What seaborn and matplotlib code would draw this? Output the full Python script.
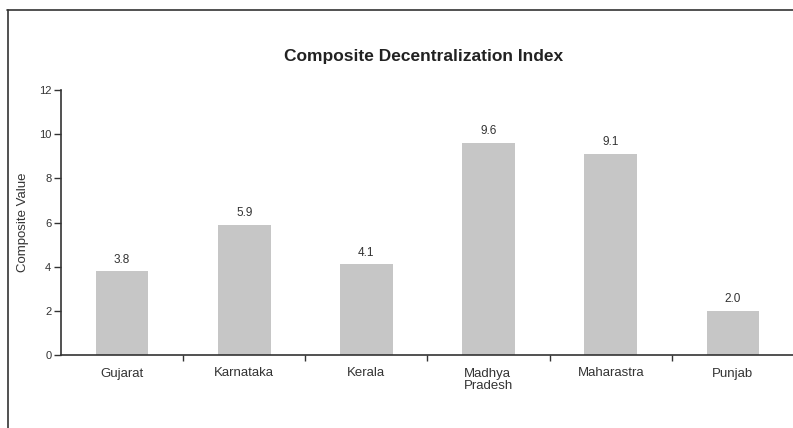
import matplotlib
matplotlib.use("Agg")
import matplotlib.pyplot as plt
import seaborn as sns
import pandas as pd
from matplotlib.lines import Line2D

states = ["Gujarat", "Karnataka", "Kerala", "Madhya\nPradesh", "Maharastra", "Punjab"]
values = [3.8, 5.9, 4.1, 9.6, 9.1, 2.0]
title = "Composite Decentralization Index"
ylabel = "Composite Value"

sns.set_theme(style="white")
plt.rcParams['font.family'] = ['Liberation Sans', 'DejaVu Sans']

df = pd.DataFrame({"state": states, "value": values})

fig = plt.figure(figsize=(7.93, 4.28), dpi=100)
ax = fig.add_axes([61/793, 73/428, 733/793, 265/428])

sns.barplot(data=df, x="state", y="value", color="#c6c6c6", width=0.43,
            saturation=1, ax=ax, edgecolor="none")

ax.set_ylim(0, 12)
ax.set_xlim(-0.5, 5.5)
ax.set_yticks([0, 2, 4, 6, 8, 10, 12])
ax.tick_params(axis="y", labelsize=8, length=5, width=1, color="#333333",
               labelcolor="#333333", left=True, pad=2, direction="out")
ax.set_xticks(range(len(states)))
ax.set_xticklabels(states, fontsize=9.5, color="#333333", multialignment="left",
                   linespacing=1.1)
ax.tick_params(axis="x", which="major", length=0, pad=9)
ax.set_xticks([i + 0.5 for i in range(len(states) - 1)], minor=True)
ax.tick_params(axis="x", which="minor", length=4, width=1, color="#333333",
               bottom=True, direction="out")

for s in ["top", "right"]:
    ax.spines[s].set_visible(False)
for s in ["left", "bottom"]:
    ax.spines[s].set_color("#333333")
    ax.spines[s].set_linewidth(1.2)

ax.set_xlabel("")
ax.set_ylabel(ylabel, fontsize=9.5, color="#333333")
ax.yaxis.set_label_coords(-0.043, 0.5)

for c in ax.containers:
    ax.bar_label(c, labels=[f"{v:.1f}" for v in values], padding=4,
                 fontsize=8.5, color="#333333")

fig.text(424/793, 1 - 57/428, title, ha="center", va="center",
         fontsize=12.5, fontweight="bold", color="#222222")

fig.add_artist(Line2D([7/793, 1], [1 - 10/428, 1 - 10/428], color="#333333",
                      lw=1.2, transform=fig.transFigure))
fig.add_artist(Line2D([8/793, 8/793], [0, 1 - 10/428], color="#333333",
                      lw=1.2, transform=fig.transFigure))

fig.savefig("out.png", dpi=100)
